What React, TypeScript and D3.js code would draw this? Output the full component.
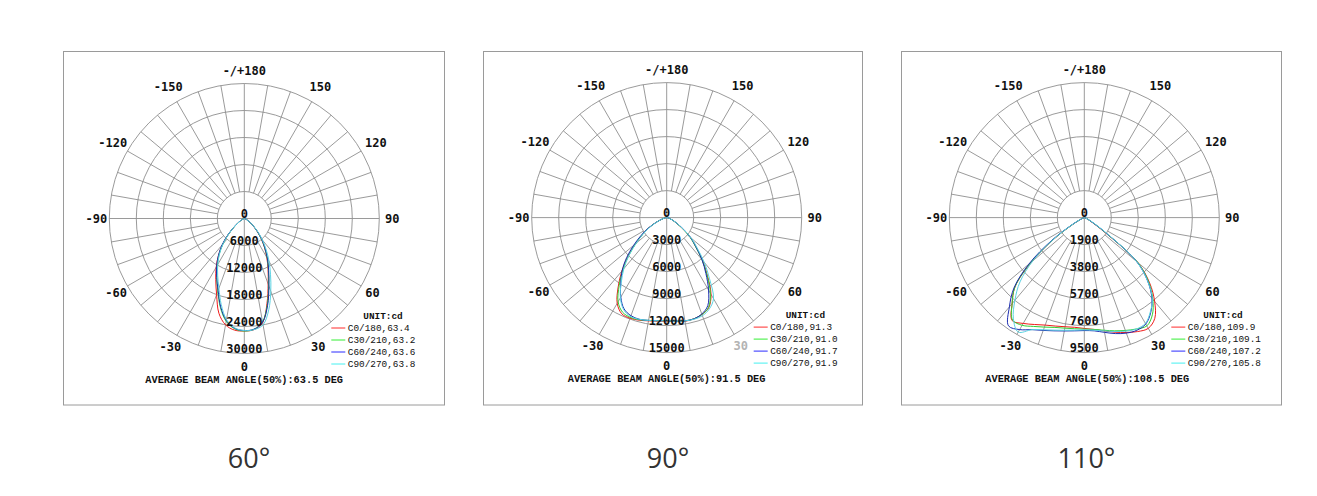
import React from 'react'
import * as d3 from 'd3'

// gamma angles (deg), negative = C180..C270 half, positive = C0..C90 half
const GAMMA = [-90, -80, -70, -65, -60, -55, -50, -45, -40, -35, -30, -25, -20, -15, -10, -5, 0,
  5, 10, 15, 20, 25, 30, 35, 40, 45, 50, 55, 60, 65, 70, 80, 90]

const PLANES = ['C0/180', 'C30/210', 'C60/240', 'C90/270']
const CAPTIONS = ['60°', '90°', '110°']
const ANGLE_TICKS = [0, 30, 60, 90, 120, 150, 180, -150, -120, -90, -60, -30]

// 60° lens, cd
const RINGS_60 = [0, 6000, 12000, 18000, 24000, 30000]
const BEAMS_60 = [63.4, 63.2, 63.6, 63.8]
const AVG_60 = 63.5
const C0_60 = [0, 50, 250, 500, 900, 1700, 3000, 5000, 7500, 10000, 12500, 15000, 18000, 21800, 24000, 24900, 25000,
  24800, 23500, 19500, 15500, 12500, 10000, 7800, 5800, 4000, 2600, 1600, 900, 500, 250, 50, 0]
const C30_60 = [0, 50, 250, 500, 900, 1700, 3000, 5000, 7400, 9800, 12000, 14500, 17200, 20500, 23200, 24600, 25000,
  24700, 23300, 19800, 15800, 12700, 10200, 7900, 5900, 4100, 2700, 1600, 900, 500, 250, 50, 0]
const C60_60 = [0, 50, 250, 500, 950, 1800, 3100, 5200, 7700, 10000, 12300, 14500, 17000, 20300, 23000, 24500, 24900,
  24700, 23400, 20000, 16000, 12800, 10300, 8000, 6000, 4200, 2700, 1700, 950, 500, 250, 50, 0]
const C90_60 = [0, 50, 250, 500, 900, 1700, 3000, 4900, 7300, 9600, 11800, 14000, 16500, 19800, 22800, 24400, 24900,
  24800, 24000, 21000, 17200, 13800, 11000, 8500, 6300, 4400, 2800, 1700, 950, 500, 250, 50, 0]

// 90° lens
const RINGS_90 = [0, 3000, 6000, 9000, 12000, 15000]
const BEAMS_90 = [91.3, 91.0, 91.7, 91.9]
const AVG_90 = 91.5
const C0_90 = [0, 200, 700, 1400, 2300, 3300, 4500, 6100, 7750, 9400, 11000, 11800, 11900, 11800, 11650, 11550, 11500,
  11600, 11700, 11650, 11450, 11050, 9850, 7900, 6200, 4600, 3500, 2200, 1300, 800, 500, 150, 0]
const C30_90 = [0, 200, 700, 1400, 2300, 3300, 4500, 6000, 7600, 9200, 10800, 11600, 11800, 11750, 11600, 11500, 11450,
  11550, 11650, 11650, 11450, 11000, 9700, 7800, 6100, 4500, 3400, 2200, 1300, 800, 500, 150, 0]
const C60_90 = [0, 200, 700, 1400, 2400, 3500, 4800, 6300, 7700, 8900, 10200, 11200, 11600, 11700, 11600, 11500, 11450,
  11550, 11650, 11650, 11400, 10800, 9300, 7600, 6100, 4600, 3500, 2300, 1400, 850, 500, 150, 0]
const C90_90 = [0, 200, 700, 1300, 2200, 3200, 4400, 5900, 7400, 8800, 10300, 11300, 11700, 11700, 11600, 11500, 11450,
  11550, 11650, 11700, 11600, 11200, 10400, 8300, 6500, 4800, 3600, 2300, 1400, 850, 500, 150, 0]

// 110° lens
const RINGS_110 = [0, 1900, 3800, 5700, 7600, 9500]
const BEAMS_110 = [109.9, 109.1, 107.2, 105.8]
const AVG_110 = 108.5
const C0_110 = [0, 20, 100, 250, 800, 2500, 4800, 6900, 7900, 8850, 8600, 8300, 8050, 7900, 7800, 7750, 7800,
  7900, 8100, 8350, 8600, 8850, 9000, 8650, 7700, 6500, 4900, 1500, 500, 250, 100, 20, 0]
const C30_110 = [0, 20, 100, 250, 850, 2600, 4900, 6900, 7900, 8800, 8750, 8450, 8200, 8000, 7900, 7850, 7850,
  7900, 8050, 8250, 8450, 8650, 8800, 8350, 7500, 6400, 4900, 1700, 600, 250, 100, 20, 0]
const C60_110 = [0, 20, 100, 250, 950, 2800, 5100, 7000, 8200, 9300, 9100, 8700, 8450, 8250, 8100, 8000, 7950,
  8000, 8200, 8450, 8650, 8750, 8650, 8150, 7400, 6300, 4800, 1800, 600, 250, 100, 20, 0]
const C90_110 = [0, 20, 120, 300, 900, 2600, 4700, 6400, 7600, 8700, 9300, 8700, 8400, 8200, 8050, 7950, 7900,
  7950, 8100, 8300, 8500, 8650, 8600, 8100, 7450, 6300, 4800, 1900, 700, 300, 120, 20, 0]

const COLORS = ['#f01a1a', '#33d033', '#1c2db0', '#5ad2e2']
const LEGEND_COLORS = ['#ff2a2a', '#33ee33', '#2a2aff', '#44f0f0']

const PANELS = [
  { cx: 244.3, cy: 218.5, box: [63.5, 51.5, 381, 353.5], rings: RINGS_60, curves: [C0_60, C30_60, C60_60, C90_60], beams: BEAMS_60, avg: AVG_60, dim: null as number | null },
  { cx: 666.7, cy: 217.6, box: [483.5, 51.5, 379, 353.5], rings: RINGS_90, curves: [C0_90, C30_90, C60_90, C90_90], beams: BEAMS_90, avg: AVG_90, dim: 30 },
  { cx: 1084.3, cy: 217.6, box: [901.5, 51.5, 380, 353.5], rings: RINGS_110, curves: [C0_110, C30_110, C60_110, C90_110], beams: BEAMS_110, avg: AVG_110, dim: null },
]

const R = 135
const GRID = '#8e8e8e'
const LABEL_FONT = '"DejaVu Sans Mono", monospace'
const MONO = '"Liberation Mono", "DejaVu Sans Mono", monospace'

function PolarPanel({ p, caption }: { p: typeof PANELS[number]; caption: string }) {
  const { cx, cy, rings } = p
  const r = d3.scaleLinear().domain([0, rings[rings.length - 1]]).range([0, R])
  const rad = (g: number) => (g * Math.PI) / 180

  const line = d3
    .lineRadial<number>()
    .angle((_, i) => Math.PI - rad(GAMMA[i]))
    .radius(d => r(d))
    .curve(d3.curveCatmullRom.alpha(0.5))

  const spokes = d3.range(-170, 190, 10)

  return (
    <g>
      <rect x={p.box[0]} y={p.box[1]} width={p.box[2]} height={p.box[3]} fill="#fff" stroke="#9a9a9a" strokeWidth={1} />
      <g transform={`translate(${cx},${cy})`}>
        {/* rings */}
        {rings.slice(1).map(v => (
          <circle key={v} r={r(v)} fill="none" stroke={GRID} strokeWidth={0.9} />
        ))}
        {/* spokes every 10° */}
        {spokes.map(a => {
          const r0 = a % 90 === 0 ? 0 : r(rings[1])
          const s = Math.sin(rad(a)), c = Math.cos(rad(a))
          return <line key={a} x1={r0 * s} y1={r0 * c} x2={R * s} y2={R * c} stroke={GRID} strokeWidth={0.9} />
        })}
        {/* angle labels */}
        {ANGLE_TICKS.map(a => {
          const lr = Math.abs(a) === 120 || Math.abs(a) === 150 ? 152 : 148
          return (
            <text key={a} x={lr * Math.sin(rad(a))} y={lr * Math.cos(rad(a))} textAnchor="middle" dominantBaseline="central"
              fontFamily={LABEL_FONT} fontSize={12} fontWeight="bold" fill={p.dim === a ? '#b3b3b3' : '#111'}>
              {a === 180 ? '-/+180' : a}
            </text>
          )
        })}
        {/* curves */}
        {p.curves.map((c, i) => (
          <path key={i} d={line(c) ?? ''} fill="none" stroke={COLORS[i]} strokeWidth={1} />
        ))}
        {/* ring labels */}
        {rings.map(v => (
          <text key={v} x={0} y={r(v) - 4.5} textAnchor="middle" dominantBaseline="central"
            fontFamily={LABEL_FONT} fontSize={12} fontWeight="bold" fill="#111">
            {v}
          </text>
        ))}
        {/* legend */}
        <text x={119} y={97.5} dominantBaseline="central" fontFamily={MONO} fontSize={9.4} fontWeight="bold" fill="#111">UNIT:cd</text>
        {PLANES.map((pl, i) => (
          <g key={pl} transform={`translate(0,${109.5 + i * 12})`}>
            <line x1={87} x2={101} y1={0} y2={0} stroke={LEGEND_COLORS[i]} strokeWidth={1} />
            <text x={103.5} y={0} dominantBaseline="central" fontFamily={MONO} fontSize={9.4} fill="#111">
              {`${pl},${p.beams[i].toFixed(1)}`}
            </text>
          </g>
        ))}
        <text x={-99} y={161.5} dominantBaseline="central" fontFamily={MONO} fontSize={10.3} fontWeight="bold" fill="#111">
          {`AVERAGE BEAM ANGLE(50%):${p.avg.toFixed(1)} DEG`}
        </text>
      </g>
      <text x={p.box[0] + p.box[2] / 2 - 5} y={468} textAnchor="middle" fontFamily='"Open Sans", sans-serif' fontSize={27} fill="#333">
        {caption}
      </text>
    </g>
  )
}

export default function App() {
  return (
    <svg width={1317} height={496} style={{ position: 'absolute', left: 0, top: 0, background: '#fff' }}>
      <rect width={1317} height={496} fill="#fff" />
      {PANELS.map((p, i) => (
        <PolarPanel key={i} p={p} caption={CAPTIONS[i]} />
      ))}
    </svg>
  )
}
